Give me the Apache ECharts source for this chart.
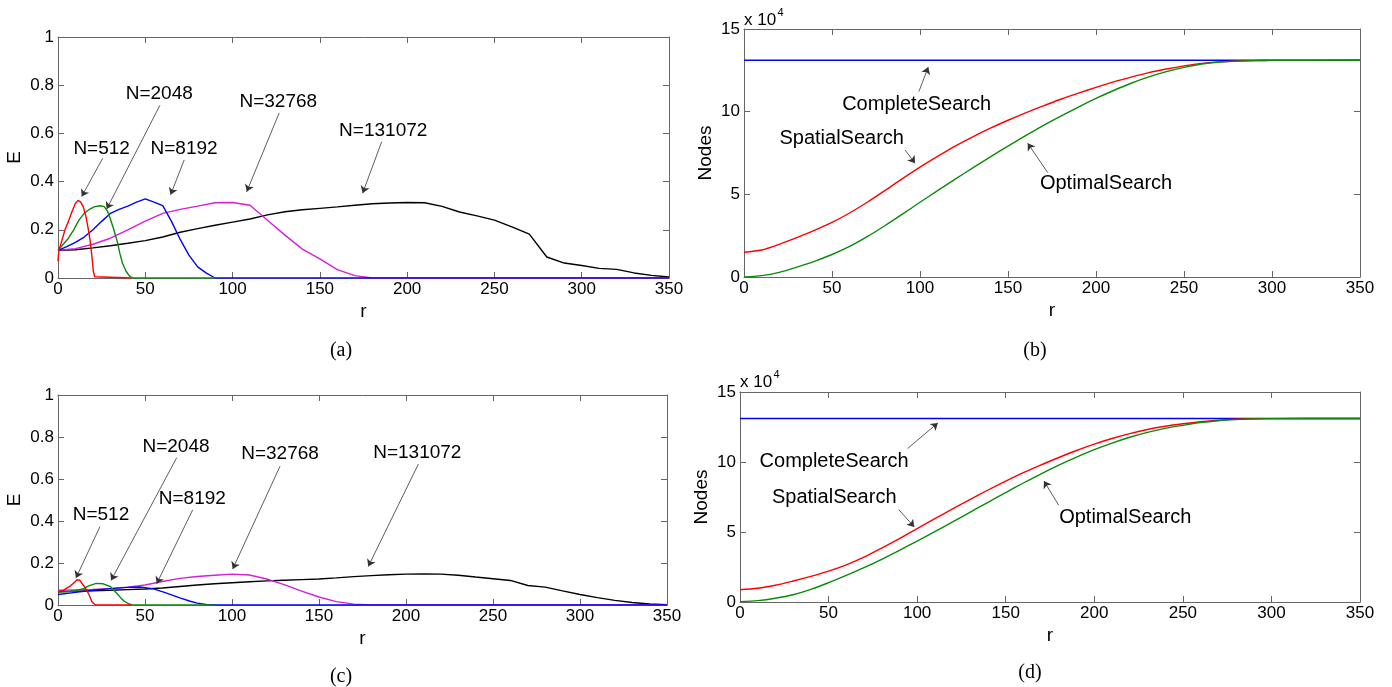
<!DOCTYPE html>
<html>
<head>
<meta charset="utf-8">
<script src="https://cdn.jsdelivr.net/npm/echarts@6/dist/echarts.min.js"></script>
<style>
  html, body { margin: 0; padding: 0; background: #fff; }
  #main { width: 1392px; height: 687px; }
</style>
</head>
<body>
<div id="main"></div>
<script>
// (a) E against r, first run
const eA512 = [[0,0.07],[0.5,0.115],[2,0.15],[4,0.2],[6,0.235],[8,0.275],[10,0.31],[11.5,0.322],[13,0.315],[14.5,0.295],[16,0.255],[17.3,0.205],[18.5,0.15],[19.5,0.085],[20.2,0.03],[21,0.005],[22,0],[42,0]];
const eA2048 = [[0,0.115],[3,0.14],[6,0.165],[9,0.2],[12,0.24],[15,0.268],[18,0.285],[21,0.296],[24,0.3],[26.5,0.296],[28.5,0.275],[30,0.245],[32,0.2],[34,0.15],[35.5,0.1],[37,0.06],[39,0.028],[41,0.008],[43,0],[90,0]];
const eA8192 = [[0,0.115],[5,0.13],[10,0.148],[15,0.17],[20,0.2],[25,0.235],[30,0.268],[35,0.285],[40,0.298],[45,0.315],[50,0.328],[55,0.315],[60,0.3],[65,0.235],[70,0.16],[75,0.095],[80,0.046],[85,0.02],[90,0],[350,0]];
const eA32768 = [[0,0.115],[10,0.122],[20,0.14],[30,0.165],[40,0.2],[50,0.236],[60,0.268],[70,0.285],[80,0.298],[90,0.312],[100,0.313],[110,0.302],[120,0.24],[130,0.178],[140,0.12],[150,0.079],[160,0.035],[170,0.01],[180,0],[350,0]];
const eA131072 = [[0,0.115],[10,0.117],[20,0.125],[30,0.134],[40,0.144],[50,0.155],[60,0.17],[70,0.19],[80,0.205],[90,0.219],[100,0.232],[110,0.245],[120,0.262],[130,0.275],[140,0.283],[150,0.289],[160,0.295],[170,0.302],[180,0.308],[190,0.311],[200,0.313],[210,0.312],[220,0.297],[230,0.274],[240,0.258],[250,0.24],[260,0.212],[270,0.182],[280,0.087],[290,0.062],[300,0.052],[310,0.04],[320,0.036],[330,0.021],[340,0.011],[350,0.004]];

// (b) nodes visited, x 10^4
const nodesCompleteB = [[0,13.1072],[350,13.1072]];
const nodesSpatialB = [[0,1.5],[10,1.63],[20,1.97],[30,2.38],[40,2.82],[50,3.3],[60,3.87],[70,4.52],[80,5.22],[90,5.95],[100,6.65],[110,7.3],[120,7.92],[130,8.48],[140,9.0],[150,9.48],[160,9.93],[170,10.35],[180,10.75],[190,11.12],[200,11.47],[210,11.8],[220,12.09],[230,12.36],[240,12.58],[250,12.77],[260,12.92],[270,13.01],[280,13.06],[290,13.09],[300,13.1],[350,13.1072]];
const nodesOptimalB = [[0,0],[10,0.08],[20,0.28],[30,0.6],[40,0.95],[50,1.36],[60,1.85],[70,2.44],[80,3.1],[90,3.8],[100,4.52],[110,5.22],[120,5.92],[130,6.6],[140,7.27],[150,7.92],[160,8.55],[170,9.16],[180,9.73],[190,10.28],[200,10.8],[210,11.28],[220,11.72],[230,12.1],[240,12.42],[250,12.68],[260,12.88],[270,13.0],[280,13.06],[290,13.09],[300,13.1],[350,13.1072]];

// (c) E against r, second run
const eC512 = [[0,0.063],[3,0.07],[5,0.08],[7,0.09],[9,0.105],[11,0.12],[12.5,0.118],[14,0.1],[15.5,0.085],[16.8,0.065],[17.8,0.05],[18.8,0.03],[19.5,0.015],[20.5,0.008],[21.5,0],[42,0]];
const eC2048 = [[0,0.06],[5,0.063],[10,0.068],[14.5,0.078],[18,0.092],[22,0.103],[26,0.101],[30,0.088],[33.6,0.057],[36,0.035],[38,0.018],[40.5,0.006],[42.5,0],[90,0]];
const eC8192 = [[0,0.05],[10,0.06],[20,0.07],[30,0.078],[40,0.084],[47,0.086],[55,0.077],[62,0.058],[70,0.034],[76,0.018],[80,0.009],[85,0.003],[90,0],[350,0]];
const eC32768 = [[0,0.07],[10,0.072],[20,0.074],[30,0.078],[40,0.085],[50,0.095],[60,0.112],[70,0.127],[80,0.136],[90,0.142],[100,0.147],[110,0.143],[120,0.124],[130,0.097],[140,0.066],[150,0.038],[160,0.016],[170,0.004],[180,0],[350,0]];
const eC131072 = [[0,0.065],[10,0.066],[20,0.068],[30,0.07],[40,0.073],[50,0.076],[60,0.081],[70,0.088],[80,0.095],[90,0.101],[100,0.106],[110,0.111],[120,0.115],[130,0.118],[140,0.121],[150,0.124],[160,0.129],[170,0.135],[180,0.14],[190,0.144],[200,0.147],[210,0.148],[220,0.147],[230,0.142],[240,0.133],[250,0.125],[260,0.117],[270,0.093],[280,0.085],[290,0.067],[300,0.05],[310,0.035],[320,0.022],[330,0.012],[340,0.005],[350,0.001]];

// (d) nodes visited, x 10^4
const nodesCompleteD = [[0,13.1072],[350,13.1072]];
const nodesSpatialD = [[0,0.88],[10,0.98],[20,1.2],[30,1.5],[40,1.83],[50,2.2],[60,2.65],[70,3.2],[80,3.85],[90,4.53],[100,5.24],[110,5.95],[120,6.65],[130,7.33],[140,8.0],[150,8.64],[160,9.24],[170,9.8],[180,10.32],[190,10.82],[200,11.28],[210,11.68],[220,12.03],[230,12.32],[240,12.55],[250,12.73],[260,12.88],[270,12.99],[280,13.06],[290,13.09],[300,13.1],[350,13.1072]];
const nodesOptimalD = [[0,0.03],[10,0.1],[20,0.27],[30,0.52],[40,0.9],[50,1.38],[60,1.9],[70,2.45],[80,3.05],[90,3.69],[100,4.35],[110,5.03],[120,5.72],[130,6.42],[140,7.12],[150,7.82],[160,8.5],[170,9.16],[180,9.78],[190,10.35],[200,10.88],[210,11.35],[220,11.77],[230,12.12],[240,12.4],[250,12.62],[260,12.82],[270,12.95],[280,13.03],[290,13.08],[300,13.1],[350,13.1072]];

// annotations: text, text position, arrow tail, arrow head (data coords)
const notesA = {
  512: ['N=512', [25.0,0.538], [25.6,0.497], [13.6,0.338]],
  2048: ['N=2048', [58.0,0.763], [58.4,0.717], [27.9,0.286]],
  8192: ['N=8192', [72.2,0.535], [72.3,0.49], [64.5,0.345]],
  32768: ['N=32768', [126.2,0.731], [126.7,0.685], [108.1,0.358]],
  131072: ['N=131072', [186.3,0.61], [185.4,0.565], [174.5,0.352]]
};
const notesC = {
  512: ['N=512', [24.7,0.432], [24.1,0.373], [10.3,0.128]],
  2048: ['N=2048', [67.8,0.753], [68.2,0.701], [30.5,0.117]],
  8192: ['N=8192', [77.2,0.505], [77.4,0.453], [56.7,0.101]],
  32768: ['N=32768', [127.6,0.718], [127.6,0.661], [100.4,0.171]],
  131072: ['N=131072', [206.5,0.725], [207.1,0.671], [178.3,0.183]]
};
const notesB = {
  complete: ['CompleteSearch', [98.1,10.41], [99.4,11.22], [104.7,12.7]],
  spatial: ['SpatialSearch', [55.5,8.39], [91.5,7.68], [97.2,6.88]],
  optimal: ['OptimalSearch', [205.7,5.68], [172.6,6.31], [161.2,8.09]]
};
const notesD = {
  complete: ['CompleteSearch', [53.1,10.07], [94.6,10.96], [111.7,12.79]],
  spatial: ['SpatialSearch', [53.2,7.46], [89.6,6.6], [98.4,5.36]],
  optimal: ['OptimalSearch', [217.5,6.07], [179.9,6.91], [171.6,8.64]]
};

const FONT = 'Liberation Sans, Arial, sans-serif';
const AX = '#666';
const RED = '#ff0000', GREEN = '#0a8a0a', BLUE = '#0000ff', MAGENTA = '#d520d5', BLACK = '#000000';

const chart = echarts.init(document.getElementById('main'));

function line(g, data, color, note, size, smooth) {
  const s = {
    type: 'line', xAxisIndex: g * 2, yAxisIndex: g * 2, data: data,
    symbol: 'none', showSymbol: false, silent: true, animation: false,
    smooth: smooth || false,
    lineStyle: { color: color, width: 1.4 }, itemStyle: { color: color }
  };
  if (note) {
    s.markPoint = {
      symbol: 'circle', symbolSize: 0, silent: true, animation: false,
      label: { show: true, position: 'inside', formatter: '{b}', color: '#000', fontSize: size, fontFamily: FONT },
      data: [{ name: note[0], coord: note[1] }]
    };
    s.markLine = {
      silent: true, animation: false, symbol: ['none', 'arrow'], symbolSize: 7,
      label: { show: false },
      lineStyle: { color: '#333', width: 0.8, type: 'solid' },
      data: [[{ coord: note[2] }, { coord: note[3] }]]
    };
  }
  return s;
}

const xAxes = [], yAxes = [];
function axes(g, ymax, yint, yname, ygap) {
  const base = { gridIndex: g, type: 'value', splitLine: { show: false } };
  xAxes.push(Object.assign({}, base, {
    position: 'bottom', min: 0, max: 350, interval: 50,
    axisLine: { show: true, onZero: false, lineStyle: { color: AX } },
    axisTick: { show: true, inside: true, length: 6, lineStyle: { color: AX } },
    axisLabel: { color: '#000', fontSize: 17, fontFamily: FONT, margin: 3 },
    name: 'r', nameLocation: 'middle', nameGap: 24,
    nameTextStyle: { color: '#000', fontSize: 19, fontFamily: FONT }
  }));
  xAxes.push(Object.assign({}, base, {
    position: 'top', min: 0, max: 350, interval: 50,
    axisLine: { show: true, onZero: false, lineStyle: { color: AX } },
    axisTick: { show: true, inside: true, length: 6, lineStyle: { color: AX } },
    axisLabel: { show: false }
  }));
  yAxes.push(Object.assign({}, base, {
    position: 'left', min: 0, max: ymax, interval: yint,
    axisLine: { show: true, onZero: false, lineStyle: { color: AX } },
    axisTick: { show: true, inside: true, length: 6, lineStyle: { color: AX } },
    axisLabel: { color: '#000', fontSize: 17, fontFamily: FONT, margin: 4 },
    name: yname, nameLocation: 'middle', nameGap: ygap, nameRotate: 90,
    nameTextStyle: { color: '#000', fontSize: 19, fontFamily: FONT }
  }));
  yAxes.push(Object.assign({}, base, {
    position: 'right', min: 0, max: ymax, interval: yint,
    axisLine: { show: true, onZero: false, lineStyle: { color: AX } },
    axisTick: { show: true, inside: true, length: 6, lineStyle: { color: AX } },
    axisLabel: { show: false }
  }));
}
axes(0, 1, 0.2, 'E', 34);
axes(1, 15, 5, 'Nodes', 29);
axes(2, 1, 0.2, 'E', 34);
axes(3, 15, 5, 'Nodes', 29);

const series = [
  line(0, eA131072, BLACK, notesA[131072], 19),
  line(0, eA32768, MAGENTA, notesA[32768], 19),
  line(0, eA8192, BLUE, notesA[8192], 19),
  line(0, eA2048, GREEN, notesA[2048], 19),
  line(0, eA512, RED, notesA[512], 19),

  line(1, nodesCompleteB, BLUE, notesB.complete, 20),
  line(1, nodesSpatialB, RED, notesB.spatial, 20, 0.3),
  line(1, nodesOptimalB, GREEN, notesB.optimal, 20, 0.3),

  line(2, eC131072, BLACK, notesC[131072], 19),
  line(2, eC32768, MAGENTA, notesC[32768], 19),
  line(2, eC8192, BLUE, notesC[8192], 19),
  line(2, eC2048, GREEN, notesC[2048], 19),
  line(2, eC512, RED, notesC[512], 19),

  line(3, nodesCompleteD, BLUE, notesD.complete, 20),
  line(3, nodesSpatialD, RED, notesD.spatial, 20, 0.3),
  line(3, nodesOptimalD, GREEN, notesD.optimal, 20, 0.3)
];

function caption(text, x, y) {
  return { type: 'text', x: x, y: y, silent: true,
    style: { text: text, fill: '#000', font: '20px "Liberation Serif", "Times New Roman", serif', textAlign: 'center', textVerticalAlign: 'middle' } };
}
function multiplier(x, y) {
  return [
    { type: 'text', x: x, y: y, silent: true,
      style: { text: 'x 10', fill: '#000', font: '17px ' + FONT, textAlign: 'left', textVerticalAlign: 'middle' } },
    { type: 'text', x: x + 33.5, y: y - 7, silent: true,
      style: { text: '4', fill: '#000', font: '11px ' + FONT, textAlign: 'left', textVerticalAlign: 'middle' } }
  ];
}

chart.setOption({
  animation: false,
  backgroundColor: '#fff',
  grid: [
    { left: 58, top: 37, width: 611, height: 241 },
    { left: 744, top: 29, width: 616, height: 248 },
    { left: 58, top: 395, width: 609, height: 210 },
    { left: 740, top: 392, width: 620, height: 210 }
  ],
  xAxis: xAxes,
  yAxis: yAxes,
  series: series,
  graphic: [
    caption('(a)', 341, 351),
    caption('(b)', 1035, 351),
    caption('(c)', 341, 677),
    caption('(d)', 1030, 673)
  ].concat(multiplier(744, 20), multiplier(740, 382))
});
</script>
</body>
</html>
